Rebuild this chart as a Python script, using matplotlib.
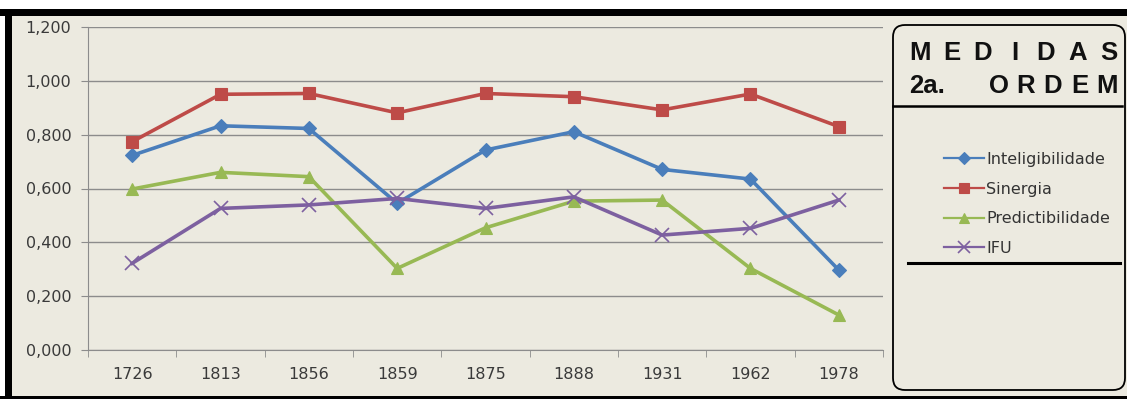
import matplotlib
matplotlib.use('Agg')
import matplotlib.pyplot as plt
from matplotlib.patches import FancyBboxPatch, Rectangle
from matplotlib.ticker import FixedLocator, FuncFormatter

# valores das medidas de 2a. ordem por ano
anos = ['1726', '1813', '1856', '1859', '1875', '1888', '1931', '1962', '1978']
inteligibilidade = [0.723, 0.833, 0.823, 0.545, 0.743, 0.811, 0.671, 0.635, 0.297]
sinergia = [0.774, 0.950, 0.953, 0.881, 0.953, 0.941, 0.892, 0.951, 0.830]
predictibilidade = [0.598, 0.660, 0.644, 0.303, 0.454, 0.553, 0.557, 0.303, 0.130]
ifu = [0.322, 0.526, 0.539, 0.563, 0.526, 0.569, 0.427, 0.452, 0.557]

plt.rcParams['font.family'] = ['DejaVu Sans']

W, H = 1127, 399
fundo = '#ECEAE0'
grade = '#8C8C8C'

fig = plt.figure(figsize=(W / 100, H / 100), dpi=100, facecolor=fundo)

ax = fig.add_axes([88 / W, 1 - 350 / H, 795 / W, 323 / H])
ax.set_facecolor(fundo)

x = list(range(len(anos)))
series = [
    ('Inteligibilidade', inteligibilidade, '#4A7EBB', 'D', 7),
    ('Sinergia', sinergia, '#BE4B48', 's', 9),
    ('Predictibilidade', predictibilidade, '#98B954', '^', 9),
    ('IFU', ifu, '#7D60A0', 'x', 10),
]
linhas = []
for nome, vals, cor, mk, ms in series:
    l, = ax.plot(x, vals, color=cor, lw=2.6, marker=mk, ms=ms,
                 mfc=cor, mec=cor, mew=1.2 if mk == 'x' else 0.8,
                 label=nome, zorder=3)
    linhas.append(l)

ax.set_xlim(-0.5, len(anos) - 0.5)
ax.set_ylim(0, 1.2)
ax.set_yticks([0, 0.2, 0.4, 0.6, 0.8, 1.0, 1.2])
ax.yaxis.set_major_formatter(FuncFormatter(lambda v, p: f'{v:.3f}'.replace('.', ',')))
ax.set_xticks(x)
ax.set_xticklabels(anos)
ax.xaxis.set_minor_locator(FixedLocator([i - 0.5 for i in range(len(anos) + 1)]))
ax.tick_params(axis='x', which='major', length=0, pad=12)
ax.tick_params(axis='x', which='minor', length=5, color=grade, direction='out')
ax.tick_params(axis='y', length=5, color=grade, pad=7)
ax.tick_params(labelsize=11.5, labelcolor='#3A3A3A')

ax.grid(axis='y', color=grade, lw=1)
ax.set_axisbelow(True)
for s in ['top', 'right']:
    ax.spines[s].set_visible(False)
for s in ['left', 'bottom']:
    ax.spines[s].set_color(grade)

# camada em pixels para moldura, caixa do titulo e legenda
ov = fig.add_axes([0, 0, 1, 1], zorder=5)
ov.set_xlim(0, W)
ov.set_ylim(H, 0)
ov.axis('off')
ov.patch.set_alpha(0)

ov.add_patch(Rectangle((0, 0), W, 9, color='white', lw=0))
ov.add_patch(Rectangle((0, 0), 5, H, color='white', lw=0))
ov.add_patch(Rectangle((0, 9), W, 7, color='black', lw=0))
ov.add_patch(Rectangle((5, 9), 7, H - 9, color='black', lw=0))
ov.add_patch(Rectangle((0, 396), W, 3, color='black', lw=0))

ov.add_patch(FancyBboxPatch((893, 25), 232, 365,
                            boxstyle='round,pad=0,rounding_size=12',
                            fc=fundo, ec='black', lw=1.3))
ov.plot([893, 1122], [106, 106], color='black', lw=1.8)
ov.plot([908, 1120], [263, 263], color='black', lw=2.2)

titulo_fonte = dict(family='Liberation Sans', weight='bold', fontsize=18.5,
                    color='#111111', va='center')
for i, letra in enumerate('MEDIDAS'):
    ov.text(920 + i * 31.5, 53, letra, ha='center', **titulo_fonte)
for i, letra in enumerate('ORDEM'):
    ov.text(999 + i * 27, 86, letra, ha='center', **titulo_fonte)
ov.text(909, 86, '2a.', ha='left', **titulo_fonte)

leg = ov.legend(handles=linhas, loc='upper left', bbox_to_anchor=(936, 144),
                bbox_transform=ov.transData, frameon=False,
                prop={'family': 'DejaVu Sans', 'size': 11.5},
                handlelength=2.5, handletextpad=0.15, labelspacing=0.92,
                markerscale=0.85, borderpad=0)
for t in leg.get_texts():
    t.set_color('#333333')
for h in leg.legend_handles:
    h.set_linewidth(1.6)

fig.savefig('out.png', dpi=100, facecolor=fundo)
